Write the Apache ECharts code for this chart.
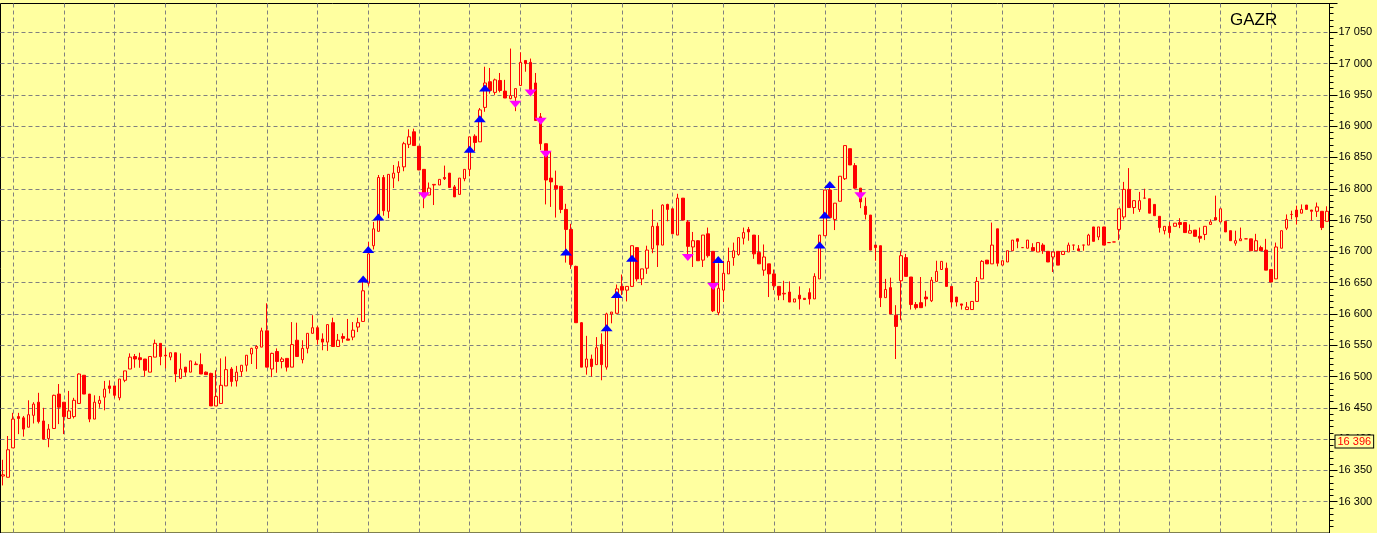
<!DOCTYPE html>
<html>
<head>
<meta charset="utf-8">
<script src="https://cdn.jsdelivr.net/npm/echarts@6/dist/echarts.min.js"></script>
<style>
html,body{margin:0;padding:0;background:#FFFFA0;}
#chart{width:1377px;height:533px;}
</style>
</head>
<body>
<div id="chart"></div>
<script>
// [open, close, low, high] per bar
const candles = [
[16341,16343,16326,16367],[16339,16383,16339,16405],[16386,16432,16386,16442],[16436,16433,16408,16442],
[16434,16416,16404,16437],[16419,16439,16419,16462],[16438,16456,16425,16459],[16459,16428,16425,16474],
[16429,16400,16399,16450],[16401,16416,16387,16424],[16417,16470,16417,16471],[16472,16451,16424,16488],
[16459,16436,16408,16459],[16433,16445,16433,16477],[16436,16462,16433,16466],[16457,16504,16457,16505],
[16502,16472,16472,16502],[16472,16432,16427,16472],[16432,16459,16432,16470],[16457,16462,16450,16469],
[16467,16480,16446,16493],[16485,16481,16473,16494],[16485,16470,16466,16485],[16466,16496,16462,16496],
[16494,16509,16491,16509],[16512,16531,16512,16537],[16532,16528,16514,16536],[16530,16527,16514,16538],
[16528,16510,16500,16528],[16507,16532,16507,16532],[16531,16553,16531,16559],[16553,16532,16518,16553],
[16534,16533,16513,16546],[16531,16538,16526,16538],[16538,16504,16491,16538],[16497,16512,16497,16537],
[16515,16507,16500,16515],[16507,16525,16507,16525],[16519,16520,16519,16524],[16519,16504,16504,16537],
[16507,16503,16503,16508],[16505,16453,16453,16506],[16453,16468,16453,16510],[16457,16486,16457,16529],
[16485,16511,16485,16532],[16512,16492,16484,16515],[16493,16507,16484,16517],[16508,16518,16500,16518],
[16518,16534,16508,16534],[16536,16545,16520,16546],[16545,16548,16512,16550],[16547,16573,16547,16578],
[16573,16515,16515,16617],[16512,16537,16499,16538],[16540,16524,16506,16545],[16524,16528,16513,16531],
[16529,16515,16508,16529],[16515,16551,16515,16587],[16558,16532,16532,16586],[16527,16545,16521,16558],
[16545,16569,16537,16569],[16569,16578,16569,16598],[16578,16559,16551,16581],[16560,16555,16542,16569],
[16555,16583,16541,16583],[16586,16548,16548,16594],[16548,16558,16548,16568],[16564,16561,16554,16569],
[16560,16558,16558,16592],[16563,16574,16558,16587],[16579,16586,16571,16594],[16588,16637,16588,16651],
[16649,16696,16645,16715],[16709,16736,16703,16747],[16732,16818,16732,16822],[16818,16765,16757,16822],
[16764,16823,16753,16823],[16817,16825,16801,16838],[16826,16835,16812,16844],[16835,16872,16828,16875],
[16871,16883,16865,16895],[16891,16869,16869,16896],[16868,16830,16830,16868],[16831,16793,16769,16831],
[16790,16801,16790,16810],[16806,16807,16774,16807],[16806,16815,16806,16815],[16818,16816,16814,16837],
[16825,16802,16802,16825],[16803,16787,16787,16806],[16791,16817,16791,16817],[16816,16831,16812,16831],
[16831,16883,16820,16883],[16884,16874,16860,16887],[16875,16926,16875,16929],[16930,16969,16923,16995],
[16971,16957,16952,16993],[16954,16974,16950,16976],[16973,16957,16954,16985],[16956,16945,16945,16974],
[16944,16949,16943,17024],[16946,16960,16924,16960],[16965,17002,16965,17018],[17005,17000,16987,17005],
[17002,16957,16957,17008],[16969,16909,16909,16985],[16915,16872,16862,16921],[16872,16814,16775,16872],
[16817,16811,16771,16859],[16805,16800,16754,16829],[16804,16767,16761,16804],[16767,16735,16682,16776],
[16735,16679,16672,16744],[16676,16586,16586,16677],[16586,16515,16515,16587],[16515,16528,16503,16565],
[16528,16516,16500,16535],[16519,16546,16519,16563],[16551,16519,16494,16569],[16515,16600,16511,16602],
[16600,16603,16585,16603],[16601,16640,16601,16647],[16644,16638,16630,16663],[16638,16644,16620,16644],
[16644,16709,16643,16709],[16706,16656,16652,16706],[16656,16672,16646,16672],[16673,16702,16664,16709],
[16704,16740,16697,16767],[16740,16710,16675,16746],[16710,16774,16710,16775],[16775,16767,16748,16776],
[16768,16728,16728,16768],[16726,16785,16726,16792],[16785,16750,16750,16785],[16747,16708,16695,16750],
[16707,16717,16675,16731],[16717,16685,16685,16718],[16686,16726,16675,16726],[16728,16693,16690,16738],
[16700,16605,16603,16700],[16602,16641,16598,16681],[16638,16665,16619,16685],[16664,16684,16664,16706],
[16690,16701,16677,16714],[16695,16722,16693,16722],[16721,16730,16711,16738],[16735,16731,16717,16739],
[16726,16696,16688,16726],[16698,16680,16680,16726],[16670,16691,16661,16711],[16680,16664,16627,16680],
[16664,16645,16638,16671],[16644,16630,16622,16644],[16632,16633,16622,16653],[16635,16619,16619,16652],
[16619,16624,16619,16624],[16630,16624,16607,16644],[16625,16623,16623,16625],[16634,16624,16615,16641],
[16624,16660,16624,16665],[16656,16726,16656,16726],[16725,16798,16725,16798],[16798,16754,16754,16806],
[16751,16777,16734,16777],[16780,16820,16780,16820],[16816,16869,16814,16869],[16864,16838,16838,16864],
[16837,16801,16800,16841],[16801,16779,16769,16801],[16772,16759,16751,16786],[16758,16702,16702,16758],
[16710,16706,16685,16710],[16709,16626,16611,16709],[16626,16639,16626,16656],[16642,16600,16600,16658],
[16598,16580,16528,16614],[16653,16693,16590,16701],[16690,16660,16660,16696],[16659,16615,16607,16659],
[16615,16610,16607,16619],[16618,16610,16610,16659],[16627,16624,16612,16637],[16621,16654,16619,16659],
[16652,16668,16652,16685],[16671,16684,16671,16684],[16673,16644,16644,16682],[16644,16619,16611,16644],
[16627,16619,16612,16627],[16616,16614,16607,16616],[16607,16611,16607,16619],[16607,16620,16607,16620],
[16620,16652,16620,16659],[16656,16684,16656,16686],[16686,16680,16680,16686],[16680,16710,16680,16746],
[16736,16681,16676,16736],[16678,16685,16678,16685],[16683,16701,16683,16701],[16701,16718,16701,16718],
[16720,16716,16705,16720],[16706,16706,16706,16706],[16705,16718,16705,16718],[16706,16701,16701,16713],
[16699,16714,16699,16714],[16710,16701,16696,16713],[16700,16683,16683,16700],[16691,16699,16667,16699],
[16700,16678,16678,16700],[16695,16700,16695,16700],[16699,16710,16699,16714],[16710,16710,16702,16710],
[16704,16701,16701,16710],[16710,16710,16701,16710],[16710,16726,16710,16728],[16739,16716,16716,16739],
[16723,16739,16718,16739],[16739,16710,16710,16739],[16714,16714,16714,16714],[16715,16715,16715,16715],
[16735,16768,16718,16768],[16755,16799,16751,16811],[16799,16770,16770,16833],[16770,16781,16760,16781],
[16767,16781,16763,16795],[16785,16785,16785,16800],[16784,16761,16761,16784],[16775,16757,16757,16775],
[16756,16738,16730,16756],[16733,16740,16727,16740],[16740,16730,16722,16747],[16740,16745,16740,16745],
[16746,16743,16737,16753],[16746,16730,16730,16746],[16729,16733,16729,16743],[16734,16724,16724,16734],
[16724,16721,16714,16738],[16727,16740,16718,16740],[16743,16747,16743,16751],[16754,16750,16750,16789],
[16747,16768,16747,16768],[16748,16731,16731,16748],[16733,16717,16717,16733],[16713,16717,16709,16733],
[16717,16720,16717,16738],[16720,16720,16720,16720],[16720,16701,16701,16720],[16701,16717,16701,16728],
[16706,16701,16701,16709],[16702,16670,16670,16720],[16671,16651,16651,16671],[16656,16707,16656,16714],
[16705,16733,16705,16733],[16737,16751,16734,16759],[16759,16759,16751,16765],[16766,16755,16743,16773],
[16761,16767,16761,16775],[16774,16767,16767,16774],[16766,16764,16749,16766],[16764,16771,16755,16778],
[16764,16738,16734,16764],[16748,16764,16748,16772]
];

// buy (blue up triangles) and sell (magenta down triangles) signals
const buyIdx  = [71,72,74,92,94,95,111,119,121,124,141,161,162,163];
const buyVal  = [16656,16703,16755,16863,16912,16961,16699,16578,16631,16689,16687,16710,16758,16807];
const sellIdx = [83,101,104,106,107,135,140,169];
const sellVal = [16789,16935,16953,16908,16855,16690,16644,16789];

// time grid lines (bar indices) and y-axis range
const vLineIdx = [2,12,22,32,42,52,62,72,82,92,102,112,122,132,142,152,162,172,177,187,197,207,217,220,230,240,250,255];
const yMin = 16250, yMax = 17096, yStep = 50;
const lastPrice = 16396;
const title = 'GAZR';

const categories = candles.map((_, i) => String(i));
const vSet = new Set(vLineIdx);
const fmt = v => String(Math.round(v)).replace(/\B(?=(\d{3})+(?!\d))/g, ' ');
const BG = '#FFFFA0';
const GRID_LINE = {color: '#808080', type: [4, 3], width: 1};

const chart = echarts.init(document.getElementById('chart'), null, {renderer: 'canvas'});
chart.setOption({
  animation: false,
  backgroundColor: BG,
  title: {
    text: title, left: 1230, top: 12, padding: 0,
    textStyle: {color: '#000', fontSize: 17, fontWeight: 'normal', fontFamily: 'Arial, "Liberation Sans", sans-serif'}
  },
  grid: {
    left: 0.5, right: 47.5, top: 3.5, bottom: -5.3,
    show: true, borderColor: '#000', borderWidth: 1, backgroundColor: 'transparent'
  },
  xAxis: {
    type: 'category', data: categories, boundaryGap: true,
    axisLine: {show: false}, axisTick: {show: false}, axisLabel: {show: false},
    splitLine: {show: true, alignWithLabel: true, interval: (idx) => vSet.has(idx), lineStyle: GRID_LINE}
  },
  yAxis: {
    type: 'value', position: 'right', min: yMin, max: yMax, interval: yStep,
    axisLine: {show: true, lineStyle: {color: '#000', width: 1}},
    axisTick: {show: true, inside: false, length: 8, lineStyle: {color: '#000', width: 1}},
    minorTick: {show: true, splitNumber: 5, length: 4, lineStyle: {color: '#000', width: 1}},
    axisLabel: {
      color: '#000', fontSize: 11, margin: 9, showMaxLabel: false, showMinLabel: false,
      fontFamily: 'Arial, "Liberation Sans", sans-serif', formatter: fmt
    },
    splitLine: {show: true, showMaxLine: false, lineStyle: GRID_LINE}
  },
  series: [
    {
      type: 'candlestick', data: candles, z: 3, barWidth: 3, silent: true,
      itemStyle: {color: BG, color0: '#FF0000', borderColor: '#FF0000', borderColor0: '#FF0000', borderWidth: 1},
      emphasis: {disabled: true}
    },
    {
      type: 'scatter', z: 5, silent: true, symbol: 'triangle', symbolSize: [12, 7],
      itemStyle: {color: '#0000FF', opacity: 1},
      data: buyIdx.map((i, k) => [i, buyVal[k]])
    },
    {
      type: 'scatter', z: 5, silent: true, symbol: 'triangle', symbolSize: [12, 7], symbolRotate: 180,
      itemStyle: {color: '#FF00FF', opacity: 1},
      data: sellIdx.map((i, k) => [i, sellVal[k]])
    },
    {
      type: 'scatter', data: [], z: 6, clip: false, silent: true,
      markLine: {
        z: 6, silent: true, symbol: 'none', animation: false,
        lineStyle: {color: 'rgba(0,0,0,0)', width: 0},
        label: {
          show: true, position: 'end', distance: 6, formatter: () => fmt(lastPrice),
          color: '#FF0000', fontSize: 11, fontFamily: 'Arial, "Liberation Sans", sans-serif',
          backgroundColor: BG, borderColor: '#000', borderWidth: 1, padding: [1, 2, 0, 2], opacity: 1
        },
        data: [{yAxis: lastPrice}]
      }
    }
  ]
});
</script>
</body>
</html>
